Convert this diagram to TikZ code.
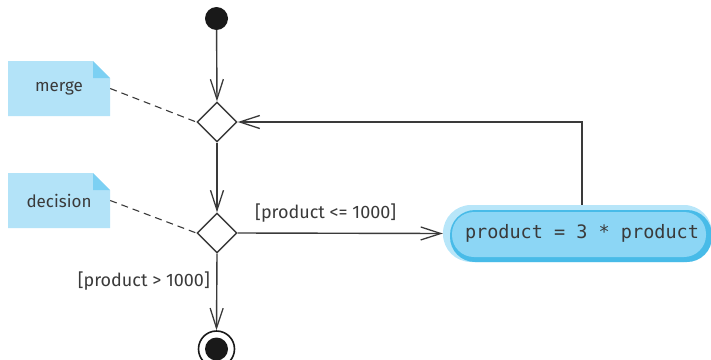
\documentclass[tikz,border=0pt]{standalone}
\usepackage{fontspec}
\setmainfont{Fira Sans}
\setmonofont{DejaVu Sans Mono}
\usetikzlibrary{arrows.meta,shapes.geometric}
\definecolor{ln}{HTML}{3A3A3A}
\definecolor{notefill}{HTML}{B3E3F8}
\definecolor{notefold}{HTML}{7CD0F3}
\definecolor{actlight}{HTML}{B8E6F9}
\definecolor{actdark}{HTML}{48BBE8}
\definecolor{actmid}{HTML}{8CD6F5}
\begin{document}
\begin{tikzpicture}[x=1pt,y=-1pt,
  flow/.style={draw=ln,line width=1.4pt,-{Straight Barb[length=20pt,width=13pt,line width=1.3pt]}},
  note/.style={minimum width=102pt,minimum height=55pt,inner sep=0pt,font=\fontsize{17}{20}\selectfont,text=ln},
  guard/.style={font=\fontsize{18}{21}\selectfont,text=ln,inner sep=0pt},
  dec/.style={diamond,draw=ln,line width=1.4pt,fill=white,minimum width=40pt,minimum height=40pt,inner sep=0pt,aspect=1},
  dashline/.style={draw=ln,line width=1.1pt,dash pattern=on 7pt off 5pt}]
\useasboundingbox (0,0) rectangle (711,359);
% action background
\fill[actlight,rounded corners=28pt] (443,205) rectangle (712,262);
\fill[actdark,rounded corners=25pt] (450,210) rectangle (712,262);
\fill[actmid,rounded corners=22pt] (452,212) rectangle (706,257);
\node[minimum width=269pt,minimum height=57pt,inner sep=0pt] (act) at (577.5,233.5) {};
\node[inner sep=0pt,font=\ttfamily\fontsize{18.5}{22}\selectfont,text=ln] (acttext) at (582,233.5) {product = 3 * product};
% notes
\fill[notefill] (8,61) -- (93,61) -- (110,78) -- (110,116) -- (8,116) -- cycle;
\fill[notefold] (93,61) -- (110,78) -- (93,78) -- cycle;
\node[note] (mnote) at (59,88.5) {merge};
\fill[notefill] (8,173) -- (93,173) -- (110,190) -- (110,228) -- (8,228) -- cycle;
\fill[notefold] (93,173) -- (110,190) -- (93,190) -- cycle;
\node[note] (dnote) at (59,200.5) {decision};
% nodes
\node[circle,fill=black!90,minimum size=23pt,inner sep=0pt] (start) at (216.5,18.5) {};
\node[dec] (merge) at (217,122) {};
\node[dec] (decision) at (217,233) {};
\node[circle,draw=black!90,line width=1.6pt,minimum size=36pt,inner sep=0pt] (final) at (216.5,349) {};
\node[circle,fill=black!90,minimum size=23pt,inner sep=0pt] (finalin) at (final) {};
\coordinate (loopc) at (582,122);
% connectors
\draw[flow] (start) -- (merge.north);
\draw[flow] (merge.south) -- (decision.north);
\draw[flow] (decision.east) -- (act.west);
\draw[flow] (decision.south) -- (final.north);
\draw[flow] (loopc |- act.north) -- (loopc) -- (merge.east);
\draw[dashline] (mnote.east) -- (merge.west);
\draw[dashline] (dnote.east) -- (decision.west);
% guards
\node[guard,anchor=west] (g1) at (255,213) {[product <= 1000]};
\node[guard,anchor=east] (g2) at (210,281) {[product > 1000]};
\end{tikzpicture}
\end{document}
